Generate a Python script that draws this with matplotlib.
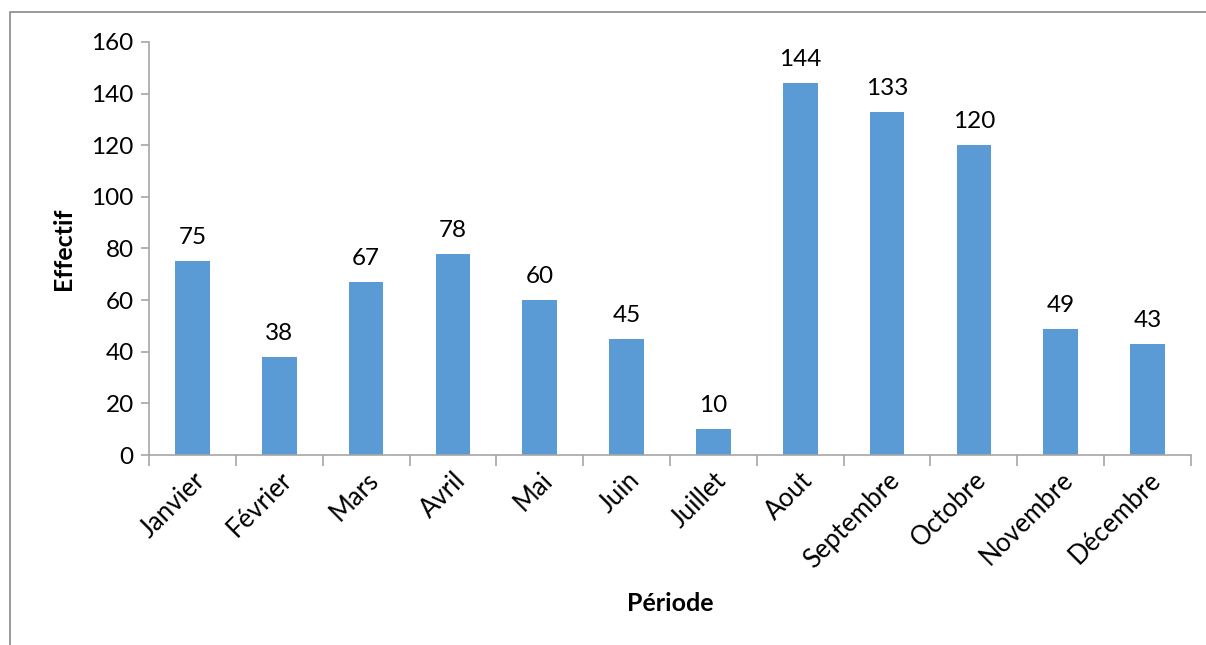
import matplotlib.pyplot as plt
from matplotlib.patches import Rectangle
import numpy as np

mois = ['Janvier', 'Février', 'Mars', 'Avril', 'Mai', 'Juin', 'Juillet',
        'Aout', 'Septembre', 'Octobre', 'Novembre', 'Décembre']
effectif = [75, 38, 67, 78, 60, 45, 10, 144, 133, 120, 49, 43]
yticks = [0, 20, 40, 60, 80, 100, 120, 140, 160]

plt.rcParams['font.family'] = ['Lato', 'DejaVu Sans']
gris = '#A6A6A6'
taille = 17.5

fig = plt.figure(figsize=(12.06, 6.45), dpi=100)
# cadre du graphique
fig.patches.append(Rectangle((10 / 1206, -0.01), 1.0, 1 - 12 / 645 + 0.01,
                             transform=fig.transFigure, fill=False,
                             edgecolor='#898989', linewidth=1.2))

ax = fig.add_axes([149 / 1206, 1 - 455 / 645, (1191 - 149) / 1206, (455 - 42) / 645])
x = np.arange(len(mois))
ax.bar(x, effectif, width=0.4, color='#5B9BD5')
for xi, v in zip(x, effectif):
    ax.text(xi, v + 5, str(v), ha='center', va='bottom', fontsize=taille)

ax.set_xlim(-0.5, len(mois) - 0.5)
ax.set_ylim(0, 160)
ax.set_yticks(yticks)
ax.tick_params(axis='y', labelsize=taille, color=gris, length=6, width=1.2, pad=5)
ax.set_xticks(x)
ax.set_xticklabels(mois, rotation=45, ha='right', rotation_mode='anchor', fontsize=18.5)
ax.tick_params(axis='x', length=0, pad=9)
ax.set_xticks(np.arange(len(mois) + 1) - 0.5, minor=True)
ax.tick_params(axis='x', which='minor', length=8, color=gris, width=1.2)

for s in ['top', 'right']:
    ax.spines[s].set_visible(False)
for s in ['left', 'bottom']:
    ax.spines[s].set_color(gris)
    ax.spines[s].set_linewidth(1.2)

ax.set_ylabel('Effectif', fontsize=18, fontweight='bold', labelpad=12)
ax.set_xlabel('Période', fontsize=18, fontweight='bold', labelpad=14)

fig.savefig('out.png', dpi=100)
